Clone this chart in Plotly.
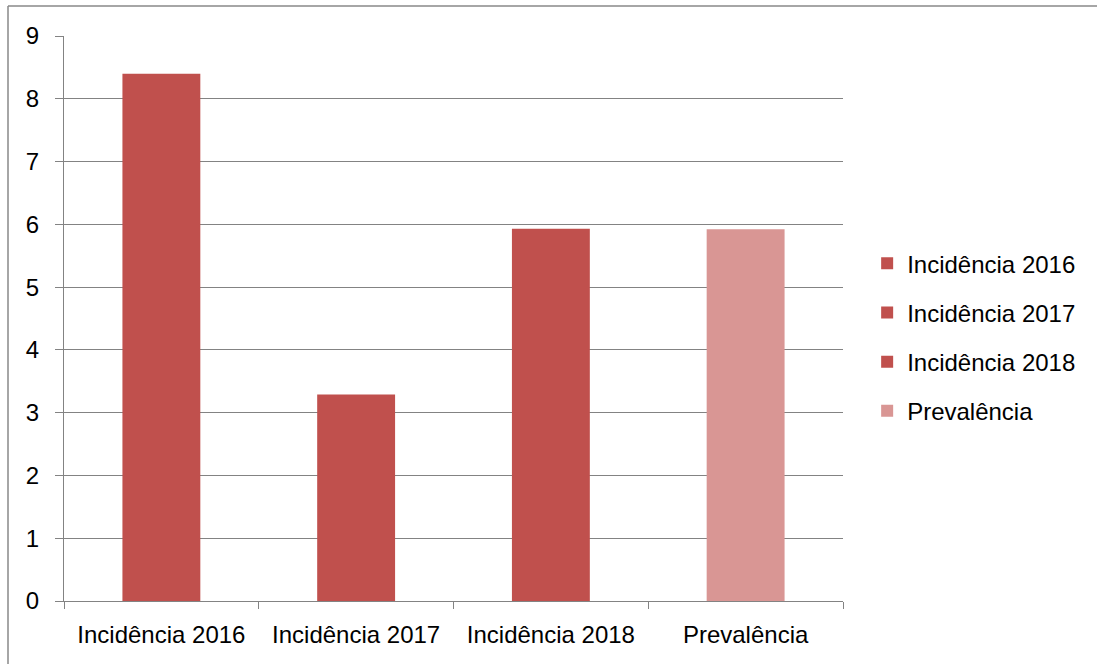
import plotly.graph_objects as go

# Incidence per year and prevalence
categories = ["Incidência 2016", "Incidência 2017", "Incidência 2018", "Prevalência"]
values = [8.4, 3.29, 5.93, 5.92]
colors = ["#C0504D", "#C0504D", "#C0504D", "#D99694"]
y_ticks = list(range(0, 10))

FONT = "Liberation Sans"
GRID = "#838383"

fig = go.Figure()
for name, val, col in zip(categories, values, colors):
    fig.add_trace(go.Bar(
        x=[name], y=[val], name=name,
        marker=dict(color=col, line=dict(width=0)),
        legendgroup=name,
    ))

fig.update_layout(
    width=1097, height=664,
    margin=dict(l=64, r=254, t=36, b=63),
    paper_bgcolor="white", plot_bgcolor="white",
    barmode="overlay", bargap=0.6,
    font=dict(family=FONT, size=24, color="black"),
    showlegend=True,
    legend=dict(
        x=1.031, xanchor="left", y=0.467, yanchor="middle",
        font=dict(family=FONT, size=24, color="black"),
        tracegroupgap=15, bgcolor="rgba(0,0,0,0)",
    ),
    xaxis=dict(
        categoryorder="array", categoryarray=categories,
        showline=True, linecolor=GRID, linewidth=1.2,
        ticks="outside", tickson="boundaries", ticklen=7, tickcolor=GRID,
        showgrid=False, zeroline=False,
        ticklabelstandoff=12,
    ),
    yaxis=dict(
        range=[0, 9], tickvals=y_ticks,
        showline=True, linecolor=GRID, linewidth=1.2,
        ticks="outside", ticklen=8, tickcolor=GRID,
        showgrid=True, gridcolor=GRID, gridwidth=1.2,
        zeroline=False, ticklabelstandoff=11,
    ),
    shapes=[
        dict(type="line", xref="paper", yref="paper",
             x0=-56 / 779, x1=1.5, y0=(664 - 63 - 6) / 565, y1=(664 - 63 - 6) / 565,
             line=dict(color="#888888", width=1.5)),
        dict(type="line", xref="paper", yref="paper",
             x0=-56 / 779, x1=-56 / 779, y0=-0.2, y1=(664 - 63 - 6) / 565,
             line=dict(color="#888888", width=1.5)),
    ],
)

fig.write_html("out.html")
